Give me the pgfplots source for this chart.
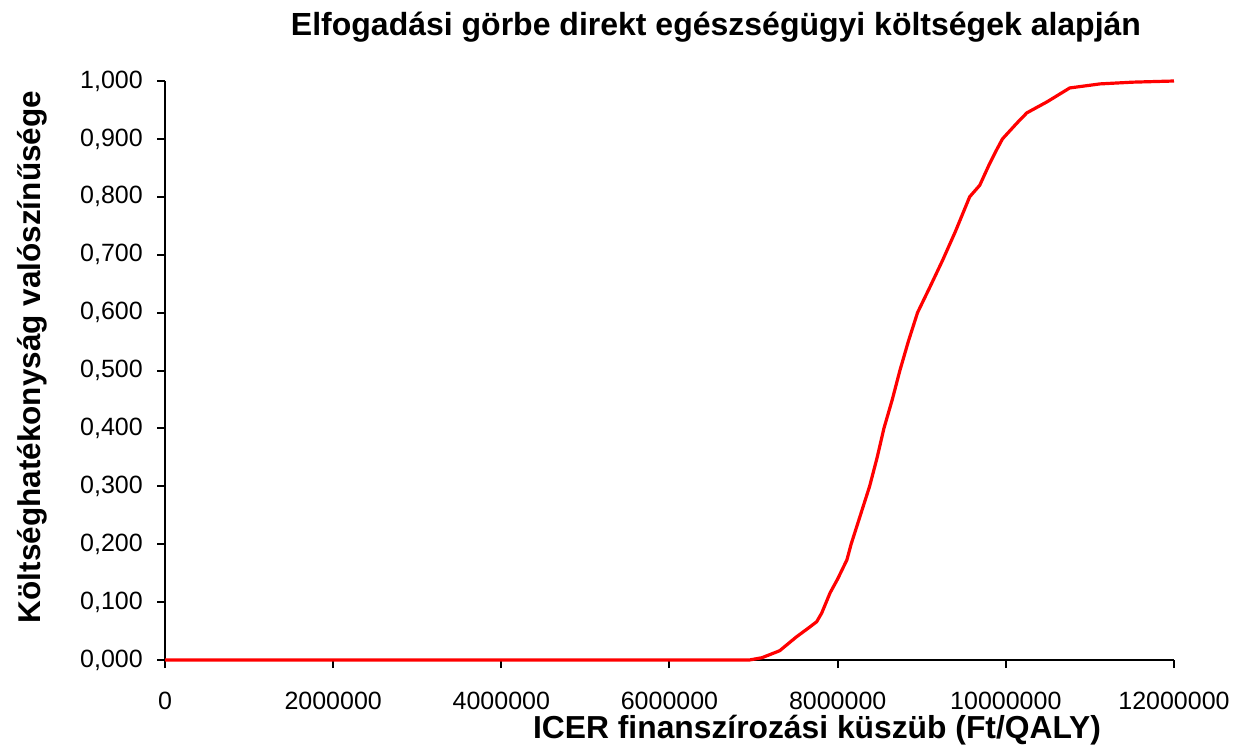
\documentclass[border=0pt]{standalone}
\usepackage{pgfplots}
\pgfplotsset{compat=1.18}
\usepackage{fontspec}
\setmainfont{Liberation Sans}
\definecolor{curvered}{RGB}{255,0,0}
\begin{document}
\begin{tikzpicture}
\begin{axis}[
  scale only axis,
  width=1009pt, height=579pt,
  at={(165pt,-660pt)}, anchor=south west,
  xmin=0, xmax=12000000, ymin=0, ymax=1,
  axis x line*=bottom, axis y line*=left,
  axis line style={line width=2.8pt, black},
  xtick={0,2000000,4000000,6000000,8000000,10000000,12000000},
  xticklabels={0,2000000,4000000,6000000,8000000,10000000,12000000},
  ytick={0,0.1,0.2,0.3,0.4,0.5,0.6,0.7,0.8,0.9,1},
  yticklabels={{0,000},{0,100},{0,200},{0,300},{0,400},{0,500},{0,600},{0,700},{0,800},{0,900},{1,000}},
  tick align=outside,
  major tick length=8pt,
  tick style={line width=2pt, black},
  ticklabel style={font=\fontsize{25}{30}\selectfont, inner sep=0pt},
  xticklabel style={anchor=north, yshift=-24pt},
  yticklabel style={anchor=east, xshift=-14pt},
  scaled x ticks=false,
  clip=false,
]
\addplot[color=curvered, line width=3.2pt, line join=round] coordinates {
(0,0) (6950000,0) (7100000,0.004) (7310000,0.016) (7510000,0.040) (7650000,0.055)
(7750000,0.066) (7810000,0.081) (7910000,0.116) (8000000,0.140) (8110000,0.173)
(8160000,0.200) (8270000,0.250) (8380000,0.300) (8470000,0.350) (8550000,0.400)
(8650000,0.450) (8740000,0.500) (8840000,0.550) (8950000,0.600) (9100000,0.645)
(9250000,0.691) (9400000,0.740) (9570000,0.800) (9690000,0.820) (9800000,0.855)
(9890000,0.881) (9960000,0.900) (10130000,0.927) (10250000,0.945) (10490000,0.964)
(10760000,0.988) (11120000,0.995) (11510000,0.998) (12000000,1.000)
};
\end{axis}
\node[anchor=base, font=\fontsize{32}{38}\selectfont\bfseries] at (716pt,-35pt) {Elfogadási görbe direkt egészségügyi költségek alapján};
\node[anchor=base, font=\fontsize{31.8}{38}\selectfont\bfseries] at (817pt,-738pt) {ICER finanszírozási küszüb (Ft/QALY)};
\node[anchor=base, rotate=90, font=\fontsize{31.5}{38}\selectfont\bfseries] at (40pt,-357pt) {Költséghatékonyság valószínűsége};
\pgfresetboundingbox
\path[use as bounding box] (0,0) rectangle (1247pt,-745pt);
\end{tikzpicture}
\end{document}
